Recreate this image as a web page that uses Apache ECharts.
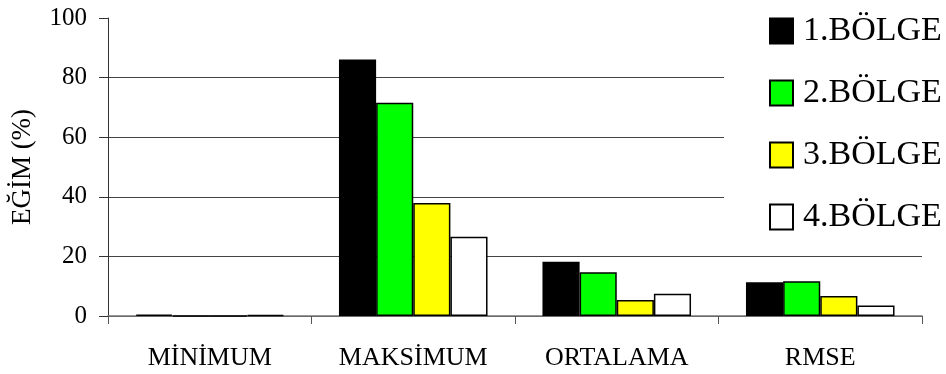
<!DOCTYPE html>
<html>
<head>
<meta charset="utf-8">
<script src="https://cdn.jsdelivr.net/npm/echarts@6/dist/echarts.min.js"></script>
<style>
  html, body { margin: 0; padding: 0; background: #fff; }
  #chart { width: 946px; height: 374px; }
</style>
</head>
<body>
<div id="chart"></div>
<script>
// Categories and series values
const categories = ['MİNİMUM', 'MAKSİMUM', 'ORTALAMA', 'RMSE'];
const region1 = [0.5, 86.1, 18.2, 11.3];
const region2 = [0, 71.6, 14.7, 11.7];
const region3 = [0, 37.9, 5.4, 6.7];
const region4 = [0.4, 26.6, 7.5, 3.5];
const seriesNames = ['1.BÖLGE', '2.BÖLGE', '3.BÖLGE', '4.BÖLGE'];
const yTicks = { min: 0, max: 100, interval: 20 };

const colors = ['#000000', '#00ff00', '#ffff00', '#ffffff'];
const font = 'Liberation Serif';

const chart = echarts.init(document.getElementById('chart'));

const makeSeries = (name, data, color) => ({
    name: name,
    type: 'bar',
    data: data,
    barGap: '0%',
    barCategoryGap: '27%',
    itemStyle: { color: color, borderColor: '#000', borderWidth: 1.5 }
});

chart.setOption({
    animation: false,
    backgroundColor: '#fff',
    textStyle: { fontFamily: font, color: '#000' },
    grid: { left: 108, right: 24, top: 18, bottom: 58 },
    legend: {
        orient: 'vertical',
        left: 724,
        top: 6,
        padding: [8, 0, 10, 45],
        backgroundColor: '#fff',
        itemWidth: 23,
        itemHeight: 25,
        itemGap: 28,
        icon: 'rect',
        textStyle: {
            fontFamily: font, fontSize: 34, color: '#000',
            lineHeight: 25, padding: [4, 0, 0, 5]
        },
        data: seriesNames
    },
    xAxis: {
        type: 'category',
        data: categories,
        axisLine: { lineStyle: { color: '#777', width: 1.5 } },
        axisTick: { show: true, length: 8, lineStyle: { color: '#555' } },
        axisLabel: { fontFamily: font, fontSize: 26, color: '#000', margin: 29 }
    },
    yAxis: {
        type: 'value',
        min: yTicks.min,
        max: yTicks.max,
        interval: yTicks.interval,
        name: 'EĞİM (%)',
        nameLocation: 'middle',
        nameGap: 72,
        nameTextStyle: { fontFamily: font, fontSize: 27, color: '#000' },
        axisLine: { show: true, lineStyle: { color: '#333', width: 1 } },
        axisTick: { show: true, length: 9, lineStyle: { color: '#333' } },
        axisLabel: { fontFamily: font, fontSize: 25, color: '#000', margin: 21 },
        splitLine: {
            show: true,
            lineStyle: { color: '#444', width: 1 },
            // no gridline at the top value
            showMaxLine: false
        }
    },
    series: [
        makeSeries(seriesNames[0], region1, colors[0]),
        makeSeries(seriesNames[1], region2, colors[1]),
        makeSeries(seriesNames[2], region3, colors[2]),
        makeSeries(seriesNames[3], region4, colors[3])
    ]
});
</script>
</body>
</html>
